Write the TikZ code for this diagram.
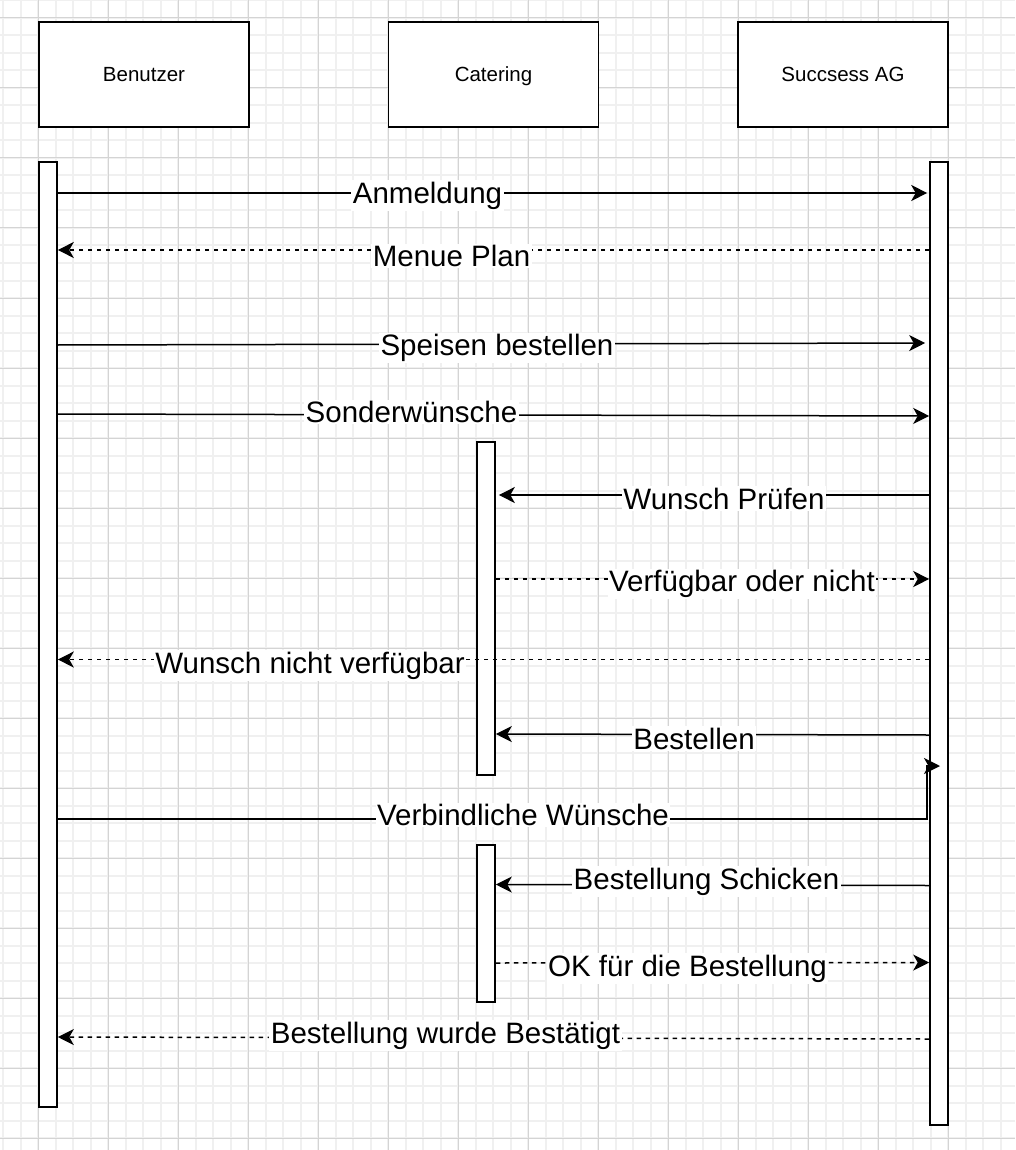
\documentclass[tikz,border=0pt]{standalone}
\usepackage{fontspec}
\setmainfont{Liberation Sans}
\usetikzlibrary{arrows.meta}
\definecolor{gridminor}{HTML}{F0F0F0}
\definecolor{gridmajor}{HTML}{D4D4D4}
\tikzset{
  minorline/.style={gridminor, line width=2pt},
  majorline/.style={gridmajor, line width=1pt},
  headbox/.style={draw=black, fill=white, line width=1.6pt, minimum width=210pt, minimum height=105pt, inner sep=0pt, text height=14.7pt, text depth=0.3pt, font=\fontsize{20.5}{24}\selectfont},
  actbar/.style={draw=black, fill=white, line width=1.6pt, minimum width=18pt, inner sep=0pt},
  msg/.style={line width=1.5pt, -{Stealth[length=16pt,width=16pt,inset=4.5pt]}},
  reply/.style={msg, dash pattern=on 4.5pt off 4.5pt},
  lbl/.style={fill=white, inner sep=1.5pt, anchor=base, font=\fontsize{29.5}{32}\selectfont}
}
\begin{document}
\begin{tikzpicture}[x=1pt,y=-1pt]
\useasboundingbox (0,0) rectangle (1015,1150);
% grid
\fill[white] (0,0) rectangle (1015,1150);
\foreach \i in {-2,...,55} \draw[minorline] ({38+17.5*\i},0) -- ({38+17.5*\i},1150);
\foreach \i in {-1,...,64} \draw[minorline] (0,{18+17.5*\i}) -- (1015,{18+17.5*\i});
\foreach \i in {0,...,13} \draw[majorline] ({38+70*\i},0) -- ({38+70*\i},1150);
\foreach \i in {0,...,16} \draw[majorline] (0,{18+70*\i}) -- (1015,{18+70*\i});

% participants
\node[headbox] (hben) at (144,74.5) {Benutzer};
\node[headbox] (hcat) at (493.5,74.5) {Catering};
\node[headbox] (hsuc) at (843,74.5) {Succsess AG};

% activation bars
\node[actbar, minimum height=945pt] (ben) at (48,634.5) {};
\node[actbar, minimum height=963pt] (suc) at (939,643.5) {};
\node[actbar, minimum height=333pt] (cata) at (486,608.5) {};
\node[actbar, minimum height=157pt] (catb) at (486,923.5) {};

% messages
\draw[msg] (ben.east |- 0,193) -- ([xshift=-2pt]suc.west |- 0,193);
\node[lbl] (l1) at (427.5,203.3) {Anmeldung};

\draw[reply] (suc.west |- 0,250) -- (ben.east |- 0,250);
\node[lbl] (l2) at (451.5,266.7) {Menue Plan};

\draw[msg] (ben.east |- 0,345) -- ([xshift=-4pt]suc.west |- 0,343);
\node[lbl] (l3) at (497,355.7) {Speisen bestellen};

\draw[msg] (ben.east |- 0,414) -- (suc.west |- 0,416);
\node[lbl] (l4) at (411.5,422.7) {Sonderwünsche};

\draw[msg] (suc.west |- 0,495) -- ([xshift=3pt]cata.east |- 0,495);
\node[lbl] (l5) at (724,509) {Wunsch Prüfen};

\draw[reply] (cata.east |- 0,579) -- (suc.west |- 0,579);
\node[lbl] (l6) at (742,591.7) {Verfügbar oder nicht};

\draw[reply] (suc.west |- 0,659.5) -- (ben.east |- 0,659.5);
\node[lbl] (l7) at (310,673) {Wunsch nicht verfügbar};

\draw[msg] (suc.west |- 0,735) -- (cata.east |- 0,734);
\node[lbl] (l8) at (694,749.3) {Bestellen};

\coordinate (vb) at (927,819);
\coordinate (vt) at (927,766);
\coordinate (vend) at (940,766);
\draw[msg] (ben.east |- vb) -- (vb) -- (vt) -- (vend);
\node[lbl] (l9) at (523,825.7) {Verbindliche Wünsche};

\draw[msg] (suc.west |- 0,885.5) -- (catb.east |- 0,884.5);
\node[lbl] (l10) at (706.5,889) {Bestellung Schicken};

\draw[reply] (catb.east |- 0,963) -- (suc.west |- 0,962.5);
\node[lbl] (l11) at (687.5,976) {OK für die Bestellung};

\draw[reply] (suc.west |- 0,1039) -- (ben.east |- 0,1037);
\node[lbl] (l12) at (445.5,1043) {Bestellung wurde Bestätigt};
\end{tikzpicture}
\end{document}
